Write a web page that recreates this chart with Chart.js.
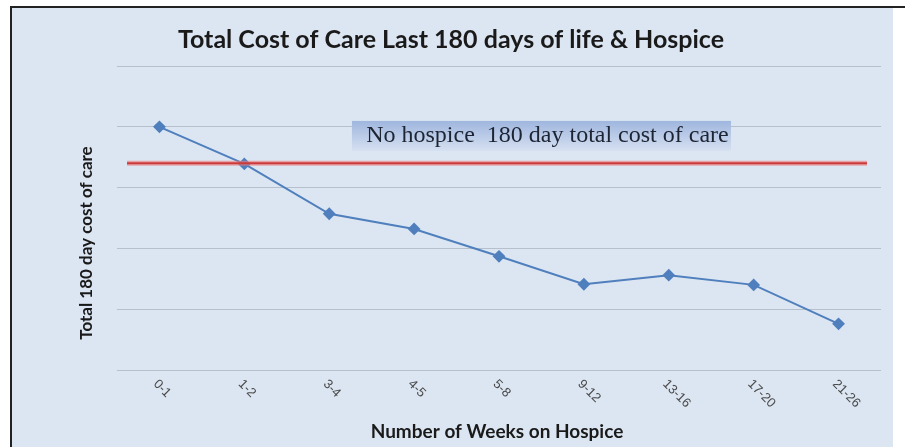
<!DOCTYPE html>
<html>
<head>
<meta charset="utf-8">
<script src="https://cdn.jsdelivr.net/npm/chart.js@4.4.1/dist/chart.umd.min.js"></script>
<style>
  body { margin: 0; background: #fff; }
  #wrap { width: 905px; height: 447px; }
</style>
</head>
<body>
<div id="wrap"><canvas id="hospice-cost" width="905" height="447"></canvas></div>
<script>
const weeks = ["0-1", "1-2", "3-4", "4-5", "5-8", "9-12", "13-16", "17-20", "21-26"];
const costOfCare = [4.0, 3.39, 2.57, 2.32, 1.87, 1.41, 1.56, 1.40, 0.76];
const noHospiceCost = 3.40;
const chartTitle = "Total Cost of Care Last 180 days of life & Hospice";
const xTitle = "Number of Weeks on Hospice";
const yTitle = "Total 180 day cost of care";
const noteText = "No hospice  180 day total cost of care";

// background panel, border, red reference line, note box and all the text
const decor = {
  id: 'decor',
  beforeDraw(chart) {
    const ctx = chart.ctx;
    ctx.save();
    ctx.fillStyle = '#ffffff';
    ctx.fillRect(0, 0, chart.width, chart.height);
    ctx.fillStyle = '#dce6f2';
    ctx.fillRect(11, 7, 882, 440);
    ctx.fillStyle = '#222';
    ctx.fillRect(10, 6, 895, 2);
    ctx.fillRect(10, 6, 2, 441);
    ctx.restore();
  },
  afterDatasetsDraw(chart) {
    const ctx = chart.ctx;
    const xs = chart.scales.x, ys = chart.scales.y;
    const area = chart.chartArea;
    ctx.save();

    // red line
    const yRed = ys.getPixelForValue(noHospiceCost);
    ctx.strokeStyle = 'rgba(235,120,120,0.6)';
    ctx.lineWidth = 5;
    ctx.beginPath();
    ctx.moveTo(area.left + 10, yRed);
    ctx.lineTo(area.right - 14, yRed);
    ctx.stroke();
    ctx.strokeStyle = '#cc3b3b';
    ctx.lineWidth = 2;
    ctx.stroke();

    // note box
    const cx = xs.getPixelForValue(4.5);
    const cy = ys.getPixelForValue(3.85);
    const bw = 379, bh = 30;
    const g = ctx.createLinearGradient(0, cy - bh / 2, 0, cy + bh / 2);
    g.addColorStop(0, '#9fb6de');
    g.addColorStop(1, '#d6e0f1');
    ctx.fillStyle = g;
    ctx.fillRect(cx - bw / 2, cy - bh / 2, bw, bh);
    ctx.fillStyle = '#1d2433';
    ctx.font = '24px "Liberation Serif"';
    ctx.textAlign = 'center';
    ctx.textBaseline = 'middle';
    ctx.fillText(noteText, cx + 6, cy);

    // rotated category labels
    ctx.font = '13px "Liberation Sans"';
    ctx.fillStyle = '#4a4a4a';
    ctx.textAlign = 'left';
    weeks.forEach((w, i) => {
      const x = xs.getPixelForTick(i);
      ctx.save();
      ctx.translate(x - 4, area.bottom + 12);
      ctx.rotate(Math.PI / 4);
      ctx.fillText(w, 0, 0);
      ctx.restore();
    });

    // titles
    ctx.fillStyle = '#1a1a1a';
    ctx.textAlign = 'center';
    ctx.font = 'bold 25px Lato';
    ctx.fillText(chartTitle, 451, 40);
    ctx.font = 'bold 19px Lato';
    ctx.fillText(xTitle, 497, 432);
    ctx.save();
    ctx.translate(87, 243);
    ctx.rotate(-Math.PI / 2);
    ctx.font = 'bold 17px Lato';
    ctx.fillText(yTitle, 0, 0);
    ctx.restore();

    ctx.restore();
  }
};

new Chart(document.getElementById('hospice-cost'), {
  type: 'line',
  data: {
    labels: weeks,
    datasets: [{
      label: 'Total cost of care',
      data: costOfCare,
      borderColor: '#4f7fbd',
      backgroundColor: '#4f7fbd',
      borderWidth: 2,
      pointStyle: 'rectRot',
      pointRadius: 5,
      pointHoverRadius: 5,
      tension: 0
    }]
  },
  options: {
    responsive: false,
    animation: false,
    layout: { padding: { left: 117, right: 24, top: 66, bottom: 77 } },
    scales: {
      x: {
        offset: true,
        grid: { display: false, drawTicks: false },
        border: { display: false },
        ticks: { display: false }
      },
      y: {
        min: 0,
        max: 5,
        ticks: { display: false, stepSize: 1 },
        grid: { color: '#b5c0cc', drawTicks: false },
        border: { display: false }
      }
    },
    plugins: {
      legend: { display: false },
      tooltip: { enabled: false }
    }
  },
  plugins: [decor]
});
</script>
</body>
</html>
